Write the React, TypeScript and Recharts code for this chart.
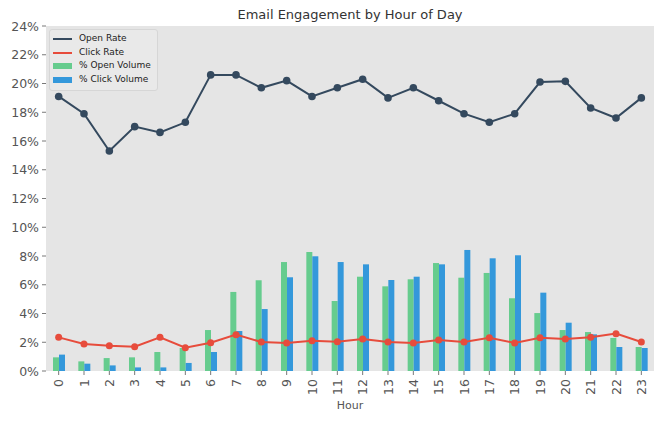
import React from "react";
import {
  ComposedChart,
  Bar,
  Line,
  XAxis,
  YAxis,
  CartesianGrid,
} from "recharts";

const hours = [
  "0", "1", "2", "3", "4", "5", "6", "7", "8", "9", "10", "11",
  "12", "13", "14", "15", "16", "17", "18", "19", "20", "21", "22", "23",
];
const openRate = [
  19.1, 17.9, 15.3, 17.0, 16.6, 17.3, 20.6, 20.6, 19.7, 20.2, 19.1, 19.7,
  20.3, 19.0, 19.7, 18.8, 17.9, 17.3, 17.9, 20.1, 20.15, 18.3, 17.6, 19.0,
];
const clickRate = [
  2.34, 1.88, 1.76, 1.69, 2.34, 1.62, 1.97, 2.53, 2.02, 1.95, 2.11, 2.04,
  2.23, 2.02, 1.95, 2.16, 2.02, 2.32, 1.95, 2.32, 2.23, 2.34, 2.6, 2.02,
];
const openVolume = [
  0.95, 0.67, 0.9, 0.95, 1.32, 1.6, 2.85, 5.5, 6.31, 7.58, 8.28, 4.87,
  6.56, 5.89, 6.38, 7.51, 6.49, 6.82, 5.06, 4.03, 2.85, 2.71, 2.3, 1.67,
];
const clickVolume = [
  1.14, 0.51, 0.39, 0.25, 0.25, 0.56, 1.32, 2.78, 4.31, 6.52, 7.98, 7.58,
  7.42, 6.33, 6.56, 7.42, 8.42, 7.84, 8.05, 5.45, 3.36, 2.55, 1.67, 1.6,
];
const yTicks = [0, 2, 4, 6, 8, 10, 12, 14, 16, 18, 20, 22, 24];

const data = hours.map((hour, i) => ({
  hour,
  openRate: openRate[i],
  clickRate: clickRate[i],
  openVolume: openVolume[i],
  clickVolume: clickVolume[i],
}));

const legendItems = [
  { label: "Open Rate", color: "#34495e", kind: "line" },
  { label: "Click Rate", color: "#e74c3c", kind: "line" },
  { label: "% Open Volume", color: "#66cc8e", kind: "bar" },
  { label: "% Click Volume", color: "#3498db", kind: "bar" },
];

const font = "'DejaVu Sans', sans-serif";

const HourTick = (props: any) => {
  const { x, y, payload } = props;
  return (
    <g>
      <line x1={x} x2={x} y1={y - 8} y2={y - 4} stroke="#555" strokeWidth={0.8} />
      <text
        transform={`translate(${x},${y}) rotate(-90)`}
        textAnchor="end"
        dominantBaseline="central"
        fill="#555"
        fontSize={12.5}
        fontFamily={font}
      >
        {payload.value}
      </text>
    </g>
  );
};

const PercentTick = (props: any) => {
  const { x, y, payload } = props;
  return (
    <g>
      <line x1={x + 4} x2={x + 8} y1={y} y2={y} stroke="#555" strokeWidth={0.8} />
      <text
        x={x + 1}
        y={y}
        textAnchor="end"
        dominantBaseline="central"
        fill="#555"
        fontSize={12.5}
        fontFamily={font}
      >
        {`${payload.value}%`}
      </text>
    </g>
  );
};

const LegendBox = () => (
  <div
    style={{
      position: "absolute",
      left: 49,
      top: 29,
      zIndex: 2,
      background: "#e9e9e9",
      border: "1px solid #d6d6d6",
      borderRadius: 3,
      padding: "2px 6px 3px 3px",
      fontFamily: font,
      fontSize: 9,
      color: "#222",
      lineHeight: "13.7px",
    }}
  >
    {legendItems.map((it) => (
      <div key={it.label} style={{ display: "flex", alignItems: "center" }}>
        <span
          style={{
            display: "inline-block",
            width: 19,
            height: it.kind === "line" ? 2 : 6,
            background: it.color,
            marginRight: 7,
          }}
        />
        {it.label}
      </div>
    ))}
  </div>
);

export default function App() {
  return (
    <div style={{ position: "absolute", left: 0, top: 0, width: 669, height: 425, background: "#fff" }}>
      <div
        style={{
          position: "absolute",
          left: 0,
          width: 700,
          top: 7,
          textAlign: "center",
          fontFamily: font,
          fontSize: 13,
          color: "#333",
          zIndex: 2,
        }}
      >
        Email Engagement by Hour of Day
      </div>
      <LegendBox />
      <ComposedChart
        width={669}
        height={425}
        data={data}
        margin={{ top: 26, right: 15, left: 0, bottom: 0 }}
        barCategoryGap="26%"
        barGap={0}
      >
        <CartesianGrid fill="#e5e5e5" horizontal={false} vertical={false} stroke="none" />
        <XAxis
          dataKey="hour"
          height={54}
          axisLine={false}
          tickLine={false}
          tick={<HourTick />}
          interval={0}
          label={{
            value: "Hour",
            position: "insideBottom",
            offset: 16,
            fill: "#555",
            fontSize: 11,
            fontFamily: font,
          }}
        />
        <YAxis
          width={46}
          domain={[0, 24]}
          ticks={yTicks}
          axisLine={false}
          tickLine={false}
          tick={<PercentTick />}
          interval={0}
        />
        <Bar dataKey="openVolume" fill="#66cc8e" barSize={6} isAnimationActive={false} />
        <Bar dataKey="clickVolume" fill="#3498db" barSize={6} isAnimationActive={false} />
        <Line
          dataKey="openRate"
          stroke="#34495e"
          strokeWidth={2}
          dot={{ r: 3.8, fill: "#34495e", stroke: "#34495e", strokeWidth: 0 }}
          isAnimationActive={false}
        />
        <Line
          dataKey="clickRate"
          stroke="#e74c3c"
          strokeWidth={2}
          dot={{ r: 3.5, fill: "#e74c3c", stroke: "#e74c3c", strokeWidth: 0 }}
          isAnimationActive={false}
        />
      </ComposedChart>
    </div>
  );
}
